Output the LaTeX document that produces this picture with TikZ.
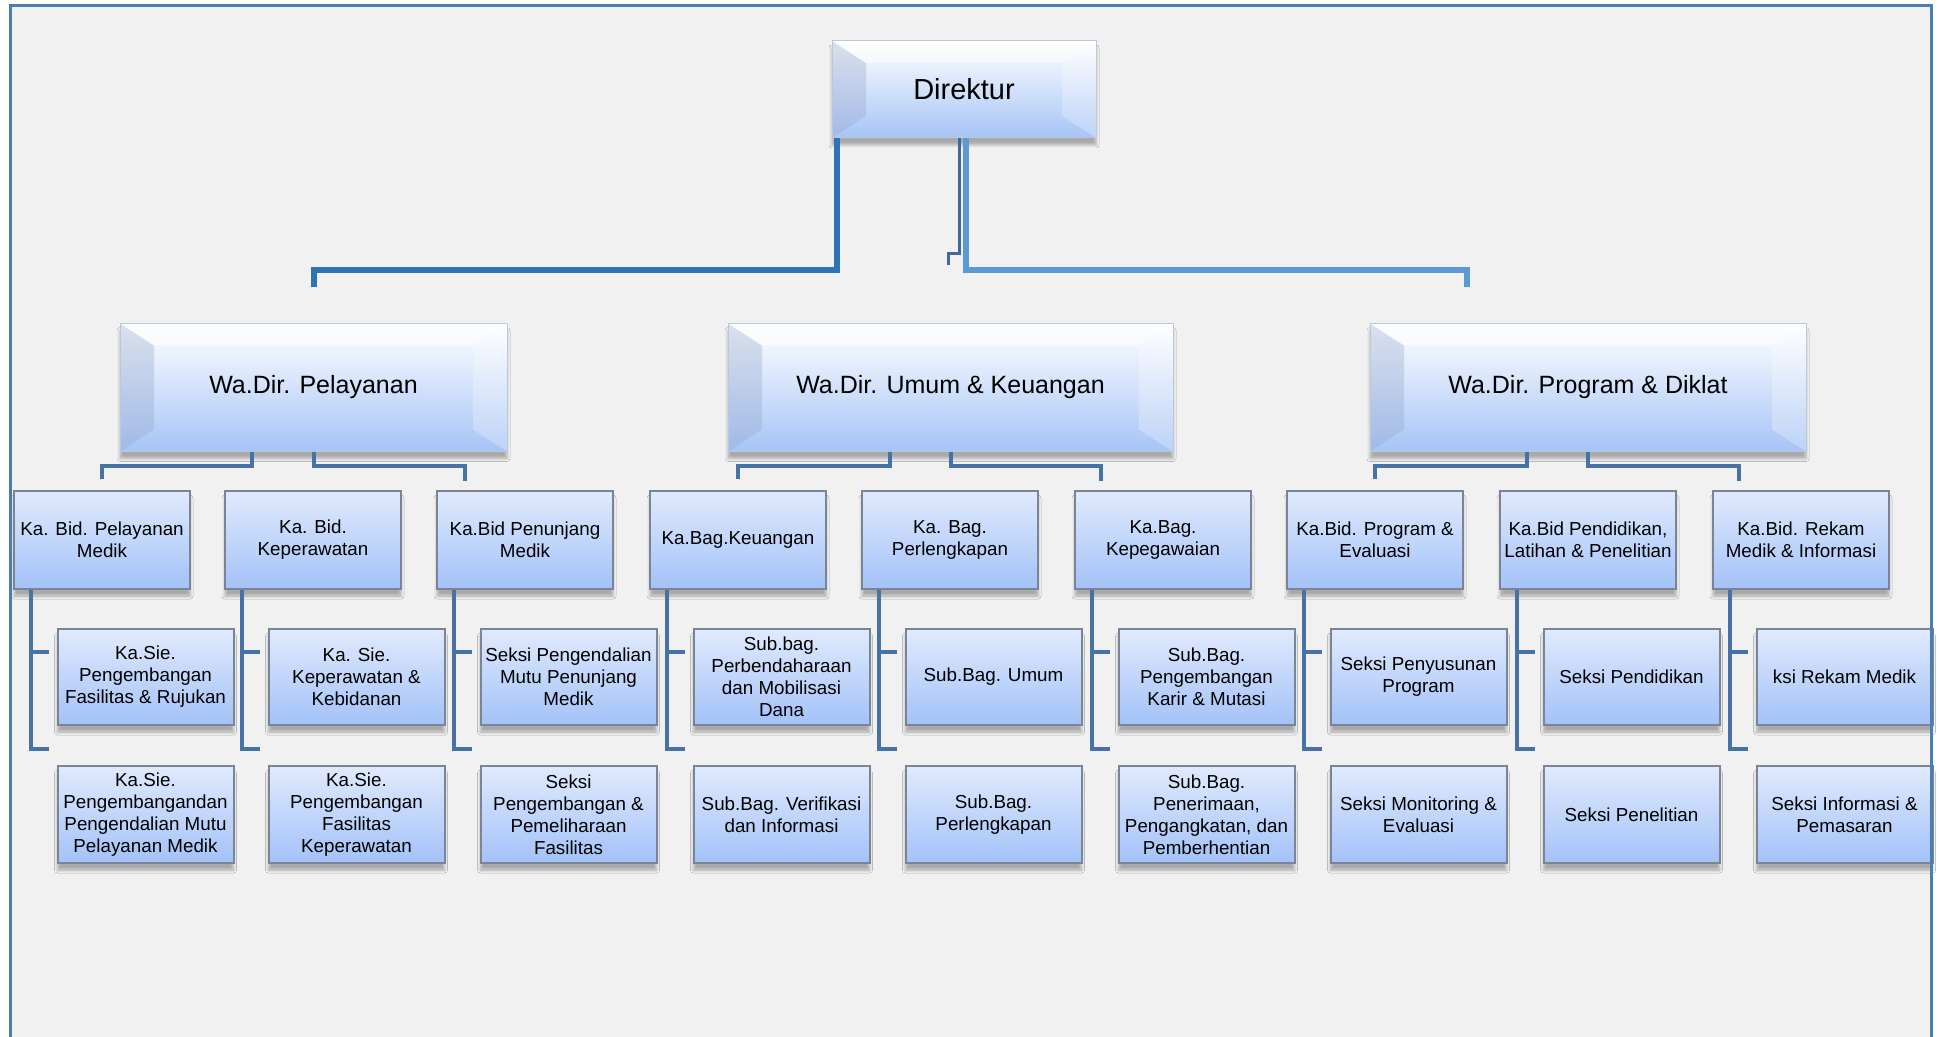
\documentclass[tikz,border=0pt]{standalone}
\usepackage{fontspec}
\setmainfont{Liberation Sans}
\usetikzlibrary{shadows.blur}

\definecolor{pagebg}{RGB}{241,241,241}
\definecolor{framecol}{RGB}{74,126,176}
\definecolor{linkdark}{RGB}{46,116,181}
\definecolor{linklight}{RGB}{91,155,213}
\definecolor{linkstub}{RGB}{65,104,154}
\definecolor{sublinkcol}{RGB}{71,114,166}
\definecolor{unittop}{RGB}{224,234,253}
\definecolor{unitbot}{RGB}{163,194,248}
\definecolor{unitline}{RGB}{122,132,148}
\definecolor{headmid}{RGB}{204,221,250}
\definecolor{headbot}{RGB}{166,196,246}
\definecolor{headline}{RGB}{186,199,222}
\definecolor{facetleft}{RGB}{150,168,204}

\tikzset{
  softshadow/.style={blur shadow={shadow xshift=0pt, shadow yshift=-3.5pt,
      shadow blur radius=1.5pt, shadow opacity=30}},
  bevelled/.style={path picture={
      \fill[facetleft, opacity=.35]
        (path picture bounding box.north west)
        -- ([shift={(17pt,-11pt)}]path picture bounding box.north west)
        -- ([shift={(17pt,11pt)}]path picture bounding box.south west)
        -- (path picture bounding box.south west) -- cycle;
      \fill[white, opacity=.25]
        (path picture bounding box.north east)
        -- ([shift={(-17pt,-11pt)}]path picture bounding box.north east)
        -- ([shift={(-17pt,11pt)}]path picture bounding box.south east)
        -- (path picture bounding box.south east) -- cycle;
      \fill[white, opacity=.45]
        (path picture bounding box.north west)
        -- (path picture bounding box.north east)
        -- ([shift={(-17pt,-11pt)}]path picture bounding box.north east)
        -- ([shift={(17pt,-11pt)}]path picture bounding box.north west) -- cycle;
  }},
  headbox/.style={rectangle, draw=headline, line width=.5pt,
      top color=white, middle color=headmid, bottom color=headbot,
      bevelled, softshadow, minimum width=193.5pt, minimum height=64pt,
      inner sep=0pt, font=\fontsize{12.5}{15}\selectfont},
  unitbox/.style={rectangle, draw=unitline, line width=1pt,
      top color=unittop, bottom color=unitbot, softshadow,
      minimum width=88pt, minimum height=48.5pt, inner sep=1pt,
      align=center, font=\fontsize{9.4}{11}\selectfont},
  link/.style={line width=3pt},
  sublink/.style={draw=sublinkcol, line width=2pt},
}

\begin{document}
\begin{tikzpicture}[x=0.5pt, y=-0.5pt]
%                     [ Direktur ]
%            /------------/  |  \-------------\
%   [ Wa.Dir. ... ]   [ Wa.Dir. ... ]   [ Wa.Dir. ... ]
%    /----+----\        /----+----\       /----+----\
%   [K] [K] [K]       [K] [K] [K]       [K] [K] [K]
%    |-- [S]           |-- [S]            |-- [S]
%    \-- [S]           \-- [S]            \-- [S]
\useasboundingbox (0,0) rectangle (1939,1037);
\fill[white] (0,0) rectangle (1939,1037);
\fill[pagebg] (10,6) rectangle (1931,1037);

% top
\node[headbox, minimum width=132pt, minimum height=48.5pt,
      font=\fontsize{14.5}{17}\selectfont] (dir) at (964,89.5) {Direktur};
\node[headbox] (wp) at (313.5,387.5) {Wa.Dir. Pelayanan};
\node[headbox, minimum width=222.5pt] (wu) at (950.5,387.5) {Wa.Dir. Umum \& Keuangan};
\node[headbox, minimum width=218pt] (wd) at (1588,387.5) {Wa.Dir. Program \& Diklat};

% Ka. Bid. / Ka. Bag.
\node[unitbox, minimum height=49pt] (pm)   at (102,540)  {Ka. Bid. Pelayanan\\Medik};
\node[unitbox, minimum height=49pt] (kep)  at (313,540)  {Ka. Bid.\\Keperawatan};
\node[unitbox, minimum height=49pt] (pen)  at (525,540)  {Ka.Bid Penunjang\\Medik};
\node[unitbox, minimum height=49pt] (keu)  at (738,540)  {Ka.Bag.Keuangan};
\node[unitbox, minimum height=49pt] (perl) at (950,540)  {Ka. Bag.\\Perlengkapan};
\node[unitbox, minimum height=49pt] (peg)  at (1163,540) {Ka.Bag.\\Kepegawaian};
\node[unitbox, minimum height=49pt] (prog) at (1375,540) {Ka.Bid. Program \&\\Evaluasi};
\node[unitbox, minimum height=49pt] (dik)  at (1588,540) {Ka.Bid Pendidikan,\\Latihan \& Penelitian};
\node[unitbox, minimum height=49pt] (rm)   at (1801,540) {Ka.Bid. Rekam\\Medik \& Informasi};

% seksi / sub.bag.
\node[unitbox, minimum height=48pt] (pm1)   at (145.5,677)  {Ka.Sie.\\Pengembangan\\Fasilitas \& Rujukan};
\node[unitbox, minimum height=48pt] (kep1)  at (356.5,677)  {Ka. Sie.\\Keperawatan \&\\Kebidanan};
\node[unitbox, minimum height=48pt] (pen1)  at (568.5,677)  {Seksi Pengendalian\\Mutu Penunjang\\Medik};
\node[unitbox, minimum height=48pt] (keu1)  at (781.5,677)  {Sub.bag.\\Perbendaharaan\\dan Mobilisasi\\Dana};
\node[unitbox, minimum height=48pt] (perl1) at (993.5,677)  {Sub.Bag. Umum};
\node[unitbox, minimum height=48pt] (peg1)  at (1206.5,677) {Sub.Bag.\\Pengembangan\\Karir \& Mutasi};
\node[unitbox, minimum height=48pt] (prog1) at (1418.5,677) {Seksi Penyusunan\\Program};
\node[unitbox, minimum height=48pt] (dik1)  at (1631.5,677) {Seksi Pendidikan};
\node[unitbox, minimum height=48pt] (rm1)   at (1844.5,677) {ksi Rekam Medik};

\node[unitbox] (pm2)   at (145.5,814.5)  {Ka.Sie.\\Pengembangandan\\Pengendalian Mutu\\Pelayanan Medik};
\node[unitbox] (kep2)  at (356.5,814.5)  {Ka.Sie.\\Pengembangan\\Fasilitas\\Keperawatan};
\node[unitbox] (pen2)  at (568.5,814.5)  {Seksi\\Pengembangan \&\\Pemeliharaan\\Fasilitas};
\node[unitbox] (keu2)  at (781.5,814.5)  {Sub.Bag. Verifikasi\\dan Informasi};
\node[unitbox] (perl2) at (993.5,814.5)  {Sub.Bag.\\Perlengkapan};
\node[unitbox] (peg2)  at (1206.5,814.5) {Sub.Bag.\\Penerimaan,\\Pengangkatan, dan\\Pemberhentian};
\node[unitbox] (prog2) at (1418.5,814.5) {Seksi Monitoring \&\\Evaluasi};
\node[unitbox] (dik2)  at (1631.5,814.5) {Seksi Penelitian};
\node[unitbox] (rm2)   at (1844.5,814.5) {Seksi Informasi \&\\Pemasaran};

% Direktur -> Wa.Dir.
\draw[link, draw=linkdark] ([xshift=2.5pt]dir.south west) -- ++(0,132) -| ([yshift=18pt]wp.north);
\draw[link, draw=linklight] ([xshift=0.75pt]dir.south) -- ++(0,132) -- ++(501,0) -- ++(0,17);
\draw[line width=1.5pt, draw=linkstub] ([xshift=-2.5pt]dir.south) -- ++(0,115) -- ++(-11,0) -- ++(0,12);

% Wa.Dir. -> Ka.
\draw[sublink] ([xshift=-30.75pt]wp.south) -- ++(0,14.5) -| ([yshift=5.5pt]pm.north);
\draw[sublink] (wp.south) -- ++(0,14.5) -- ++(151.5,0) -- ++(0,14.5);
\draw[sublink] ([xshift=-30.25pt]wu.south) -- ++(0,14.5) -| ([yshift=5.5pt]keu.north);
\draw[sublink] (wu.south) -- ++(0,14.5) -- ++(150.5,0) -- ++(0,14.5);
\draw[sublink] ([xshift=-30.5pt]wd.south) -- ++(0,14.5) -| ([yshift=5.5pt]prog.north);
\draw[sublink] (wd.south) -- ++(0,14.5) -- ++(151,0) -- ++(0,14.5);

% Ka. -> seksi
\foreach \n in {pm,kep,pen,keu,perl,peg,prog,dik,rm} {
  \draw[sublink] ([xshift=8.75pt]\n.south west) |- ([shift={(-4pt,8pt)}]\n2.north west);
  \draw[sublink] ([shift={(-4pt,12.5pt)}]\n1.west) -| ([xshift=8.75pt]\n.south west);
}

\draw[framecol, line width=1.5pt] (10,1037) -- (10,6) -- (1931,6) -- (1931,1037);
\end{tikzpicture}
\end{document}
